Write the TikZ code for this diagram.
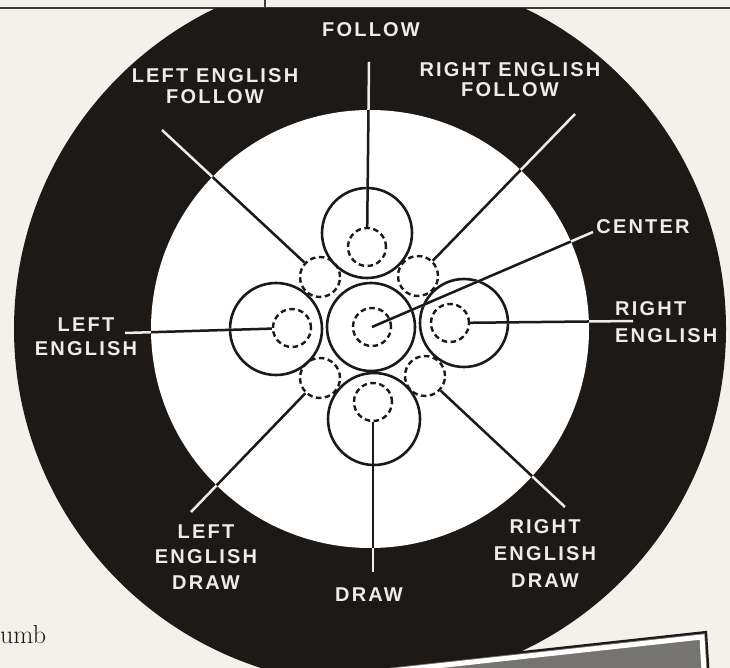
\documentclass[tikz,border=0pt]{standalone}
\usepackage{fontspec}
\newfontfamily\lblfont{Liberation Sans}[LetterSpace=11]

\definecolor{ink}{RGB}{28,25,23}
\definecolor{paper}{RGB}{243,241,236}
\definecolor{chalk}{RGB}{238,236,230}
\definecolor{boxgray}{RGB}{118,116,113}

\begin{document}
\begin{tikzpicture}[
  x=1pt, y=-1pt,
  lbl/.style={text=chalk, font=\lblfont\bfseries\fontsize{20}{24}\selectfont, align=center, inner sep=0pt},
  ball/.style={circle, draw=ink, line width=2.6pt, minimum size=#1, inner sep=0pt},
  spot/.style={circle, draw=ink, line width=2.4pt, dash pattern=on 5.5pt off 3.5pt, minimum size=#1, inner sep=0pt},
  spot/.default=38pt,
  spokew/.style={draw=chalk, line width=2.5pt},
  spokeb/.style={draw=ink, line width=2.5pt}
]
\useasboundingbox (0,0) rectangle (730,668);
\fill[paper] (0,0) rectangle (730,668);

% page frame at the top
\draw[ink!85, line width=2pt] (0,8) -- (730,8);
\draw[ink!85, line width=1.5pt] (265,0) -- (265,8);

% black disk and white field
\begin{scope}
  \clip (0,9) rectangle (730,668);
  \fill[ink] (370,329) circle (356pt);
\end{scope}
\fill[white] (370,329) circle (219pt);

% balls
\node[ball=88pt] (bmain) at (371,327) {};
\node[ball=90pt] (btop) at (367,233) {};
\node[ball=92pt] (bleft) at (276,329) {};
\node[ball=88pt] (bright) at (464,323) {};
\node[ball=92pt] (bbot) at (374,419) {};
% contact spots
\node[spot] (dmain) at (372,327) {};
\node[spot] (dtop) at (367,247) {};
\node[spot] (dleft) at (292,328) {};
\node[spot] (dright) at (450,323) {};
\node[spot] (dbot) at (373,402) {};
\node[spot=40pt] (sul) at (320,277) {};
\node[spot=40pt] (sur) at (418,276) {};
\node[spot=40pt] (sll) at (320,378) {};
\node[spot=40pt] (slr) at (425,376) {};

% labels
\node[lbl] (lfollow) at (371,30) {FOLLOW};
\node[lbl] (llef) at (215,86) {LEFT ENGLISH\\[-3pt]FOLLOW};
\node[lbl] (lref) at (510,80) {RIGHT ENGLISH\\[-4pt]FOLLOW};
\node[lbl] (lcenter) at (643,227) {CENTER};
\node[lbl, align=left, anchor=west] (lright) at (615,322) {RIGHT\\[3pt]ENGLISH};
\node[lbl] (lleft) at (86,337) {LEFT\\ENGLISH};
\node[lbl] (lled) at (206,557) {LEFT\\[1.5pt]ENGLISH\\[1.5pt]DRAW};
\node[lbl] (ldraw) at (369,595) {DRAW};
\node[lbl] (lred) at (545,554) {RIGHT\\[3pt]ENGLISH\\[3pt]DRAW};

% spoke ends next to the labels
\coordinate (sfollow) at (369,62);
\coordinate (slef) at (162,130);
\coordinate (sref) at (575,114);
\coordinate (scenter) at (593,232);
\coordinate (sright) at (633,321);
\coordinate (sleft) at (125,333);
\coordinate (sled) at (191,512);
\coordinate (sred) at (565,507);
\coordinate (sdraw) at (373,572);

% spokes: white on the disk, black on the field
\foreach \s/\t in {sfollow/dtop, slef/sul, sref/sur, scenter/dmain.center, sright/dright,
                   sleft/dleft, sled/sll, sred/slr, sdraw/dbot}
  \draw[spokew] (\s) -- (\t);
\begin{scope}
  \clip (370,329) circle (219pt);
  \foreach \s/\t in {sfollow/dtop, slef/sul, sref/sur, scenter/dmain.center, sright/dright,
                     sleft/dleft, sled/sll, sred/slr, sdraw/dbot}
    \draw[spokeb] (\s) -- (\t);
\end{scope}

% next page items
\fill[boxgray] (706,632) -- (340,672) -- (340,680) -- (709,680) -- cycle;
\draw[white, line width=5pt] (340,676.5) -- (702,637) -- (704.5,680);
\draw[ink, line width=2.2pt] (340,672) -- (706,632) -- (709,680);
\node[font=\fontsize{26}{30}\selectfont, text=ink, anchor=base west, inner sep=0pt] (umb) at (0,643) {umb};
\end{tikzpicture}
\end{document}
